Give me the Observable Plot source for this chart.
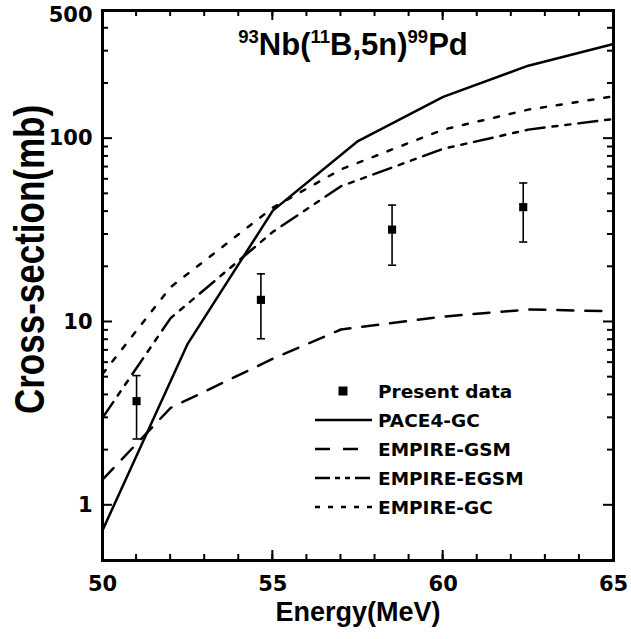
<!DOCTYPE html>
<html>
<head>
<meta charset="utf-8">
<script src="https://cdn.jsdelivr.net/npm/d3@7"></script>
<script src="https://cdn.jsdelivr.net/npm/@observablehq/plot@0.6"></script>
<style>
  body { margin: 0; background: #fff; }
</style>
</head>
<body>
<div id="chart"></div>
<script>
// PACE4 statistical-model calculation (energies in MeV, cross-sections in mb)
const energyPace = [50, 52.5, 55, 57.5, 60, 62.5, 65];
const pace4GC    = [0.73, 7.6, 40.5, 97, 169, 250, 328];

// EMPIRE calculations with three level-density options
const energyEmpire = [50, 52, 55, 57, 60, 62.5, 65];
const empireGSM    = [1.38, 3.4, 6.3, 9.1, 10.7, 11.7, 11.45];
const empireEGSM   = [3.0, 10.5, 31, 55, 88, 112, 128];
const empireGC     = [5.2, 15.5, 42, 68, 112, 144, 170];

// Measured cross-sections with their uncertainties
const expEnergy = [51.0, 54.65, 58.5, 62.35];
const expSigma  = [3.7, 13.2, 31.9, 42.3];
const expError  = [1.4, 5.1, 11.5, 15.0];

// Axis ticks
const xMajor = [50, 55, 60, 65];
const xMinor = d3.range(50, 66, 1);
const yMajor = [1, 10, 100];
const yMinor = [2, 3, 4, 5, 6, 7, 8, 9, 20, 30, 40, 50, 60, 70, 80, 90, 200, 300, 400];
const yLabels = [1, 10, 100];
const yTopLabel = [500];

const xTitle = "Energy(MeV)";
const yTitle = "Cross-section(mb)";
const reactionParts = [["93", true], ["Nb(", false], ["11", true], ["B,5n)", false], ["99", true], ["Pd", false]];

const legendLabels = ["Present data", "PACE4-GC", "EMPIRE-GSM", "EMPIRE-EGSM", "EMPIRE-GC"];

const toRows = (xs, ys) => xs.map((x, i) => ({energy: x, sigma: ys[i]}));
const pace = toRows(energyPace, pace4GC);
const gsm = toRows(energyEmpire, empireGSM);
const egsm = toRows(energyEmpire, empireEGSM);
const gc = toRows(energyEmpire, empireGC);
const measured = expEnergy.map((e, i) => ({
  energy: e, sigma: expSigma[i], lo: expSigma[i] - expError[i], hi: expSigma[i] + expError[i]
}));

// horizontal cap used at the ends of the error bars
const capSymbol = {
  draw(context, size) {
    const w = Math.sqrt(size) / 2;
    context.moveTo(-w, 0);
    context.lineTo(w, 0);
  }
};

const W = 631, H = 639;
const mL = 102, mR = 18, mT = 10, mB = 79;

const bold = "DejaVu Sans, sans-serif";
const arial = "Liberation Sans, Arial, sans-serif";
const lineOpts = {x: "energy", y: "sigma", stroke: "black", strokeWidth: 2.5, strokeLinejoin: "round"};

const plot = Plot.plot({
  width: W,
  height: H,
  marginLeft: mL,
  marginRight: mR,
  marginTop: mT,
  marginBottom: mB,
  style: {fontFamily: bold, fontWeight: "bold", color: "black", background: "white"},
  x: {domain: [50, 65], axis: null},
  y: {type: "log", domain: [0.5, 500], axis: null},
  marks: [
    // theory curves
    Plot.line(pace, {...lineOpts}),
    Plot.line(gsm, {...lineOpts, strokeDasharray: "16,12"}),
    Plot.line(egsm, {...lineOpts, strokeDasharray: "19,8,5,8,5,8"}),
    Plot.line(gc, {...lineOpts, strokeDasharray: "5,11"}),

    // measured data with error bars
    Plot.ruleX(measured, {x: "energy", y1: "lo", y2: "hi", stroke: "black", strokeWidth: 1.6}),
    Plot.dot(measured, {x: "energy", y: "lo", symbol: capSymbol, r: 4.6, stroke: "black", strokeWidth: 1.6, fill: "none"}),
    Plot.dot(measured, {x: "energy", y: "hi", symbol: capSymbol, r: 4.6, stroke: "black", strokeWidth: 1.6, fill: "none"}),
    Plot.dot(measured, {x: "energy", y: "sigma", symbol: "square", r: 4.6, fill: "black", stroke: null}),

    // tick labels
    Plot.axisX(xMajor, {anchor: "bottom", tickSize: 0, tickPadding: 16, label: null,
      fontSize: 21, fontWeight: "bold", tickFormat: d => String(d)}),
    Plot.axisY(yLabels, {anchor: "left", tickSize: 0, tickPadding: 10, label: null,
      fontSize: 21, fontWeight: "bold", tickFormat: d => String(d)}),
    Plot.axisY(yTopLabel, {anchor: "left", tickSize: 0, tickPadding: 10, label: null, dy: 5,
      fontSize: 21, fontWeight: "bold", tickFormat: d => String(d)}),

    // axis titles and reaction label
    Plot.text([xTitle], {frameAnchor: "bottom", lineAnchor: "middle", textAnchor: "middle", dy: 52,
      fontSize: 27, fontWeight: "bold", fontFamily: arial}),
    Plot.text([yTitle], {frameAnchor: "left", lineAnchor: "middle", textAnchor: "middle", rotate: -90, dx: -72, dy: -26,
      fontSize: 35, fontWeight: "bold", fontFamily: arial, ariaDescription: "y title"}),
    Plot.text([reactionParts.map(p => p[0]).join("")], {frameAnchor: "top", lineAnchor: "middle", textAnchor: "middle",
      dx: -5, dy: 35, fontSize: 31, fontWeight: "bold", fontFamily: arial, ariaDescription: "reaction"}),

    Plot.frame({stroke: "black", strokeWidth: 3})
  ]
});

document.getElementById("chart").appendChild(plot);

const svg = d3.select(plot);
const sx = plot.scale("x");
const sy = plot.scale("y");
const frameLeft = mL, frameRight = W - mR, frameTop = mT, frameBottom = H - mB;

// inward ticks on all four sides, placed through the plot's own scales
const tickLayer = svg.append("g").attr("stroke", "black").attr("stroke-width", 2);
const drawTicksX = (values, len) => values.forEach(v => {
  const px = sx.apply(v);
  tickLayer.append("line").attr("x1", px).attr("x2", px).attr("y1", frameBottom).attr("y2", frameBottom - len);
  tickLayer.append("line").attr("x1", px).attr("x2", px).attr("y1", frameTop).attr("y2", frameTop + len);
});
const drawTicksY = (values, len) => values.forEach(v => {
  const py = sy.apply(v);
  tickLayer.append("line").attr("y1", py).attr("y2", py).attr("x1", frameLeft).attr("x2", frameLeft + len);
  tickLayer.append("line").attr("y1", py).attr("y2", py).attr("x1", frameRight).attr("x2", frameRight - len);
});
drawTicksX(xMinor, 6);
drawTicksX(xMajor, 10);
drawTicksY(yMinor, 6);
drawTicksY(yMajor, 10);

// reaction label with superscript mass numbers
const reaction = svg.select('g[aria-description="reaction"] text');
if (!reaction.empty()) {
  reaction.text(null);
  reactionParts.forEach(([s, sup]) => {
    reaction.append("tspan")
      .attr("font-size", sup ? 18.5 : 31)
      .attr("baseline-shift", sup ? "11.7" : null)
      .text(s);
  });
}

// slightly broader glyphs for the vertical title
const yTitleNode = svg.select('g[aria-description="y title"] text');
if (!yTitleNode.empty()) {
  const t = yTitleNode.attr("transform") || "";
  yTitleNode.attr("transform", t + " scale(1,1.2)");
}

// legend
const legend = svg.append("g")
  .attr("font-family", bold).attr("font-weight", "bold").attr("font-size", 18.5)
  .attr("text-anchor", "start");
const rowY = i => 391 + i * 29;
const legendStyles = [
  null,
  {dash: null, x2: 372},
  {dash: "15,13", x2: 358},
  {dash: "15,5,5,5,5,5", x2: 370},
  {dash: "5,8", x2: 372}
];
legendLabels.forEach((label, i) => {
  const y = rowY(i);
  if (i === 0) {
    legend.append("rect").attr("x", 338.5).attr("y", y - 4.5).attr("width", 9).attr("height", 9).attr("fill", "black");
  } else {
    legend.append("line")
      .attr("x1", 315).attr("x2", legendStyles[i].x2).attr("y1", y).attr("y2", y)
      .attr("stroke", "black").attr("stroke-width", 2.5)
      .attr("stroke-dasharray", legendStyles[i].dash);
  }
  legend.append("text").attr("x", 378).attr("y", y).attr("dy", "0.36em").text(label);
});
</script>
</body>
</html>
